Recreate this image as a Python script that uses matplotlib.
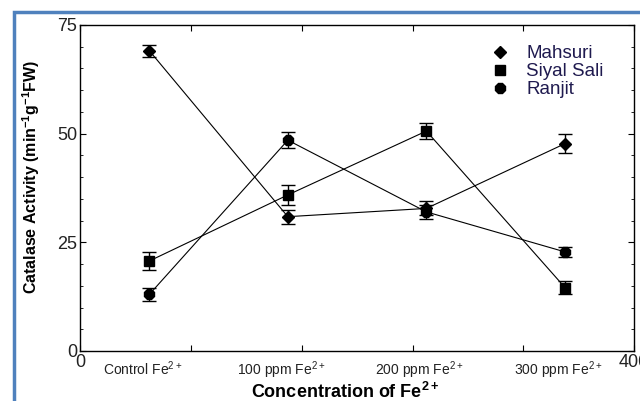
import matplotlib.pyplot as plt
from matplotlib.lines import Line2D
from matplotlib.patches import Rectangle

plt.rcParams['font.family'] = ['Liberation Sans', 'DejaVu Sans']
plt.rcParams['mathtext.fontset'] = 'custom'
plt.rcParams['mathtext.rm'] = 'Liberation Sans'
plt.rcParams['mathtext.bf'] = 'Liberation Sans:bold'

# concentration positions on the 0-400 axis
conc_x = [50, 150, 250, 350]
conc_labels = ['Control Fe$^{2+}$', '100 ppm Fe$^{2+}$', '200 ppm Fe$^{2+}$', '300 ppm Fe$^{2+}$']

mahsuri = [69.1, 30.9, 32.8, 47.7]
mahsuri_err = [1.4, 1.6, 1.6, 2.2]
siyal_sali = [20.7, 35.9, 50.6, 14.6]
siyal_sali_err = [2.1, 2.3, 1.8, 1.6]
ranjit = [13.0, 48.5, 32.0, 22.8]
ranjit_err = [1.4, 1.8, 1.7, 1.2]

series = [('Mahsuri', mahsuri, mahsuri_err, 'D', 6.5),
          ('Siyal Sali', siyal_sali, siyal_sali_err, 's', 6.5),
          ('Ranjit', ranjit, ranjit_err, '8', 8.5)]

fig = plt.figure(figsize=(6.4, 4.01), dpi=100)
ax = fig.add_axes([0.125, 0.1247, 0.866, 0.813])

# blue frame around the figure (only top/left are visible in the original)
fig.patches.append(Rectangle((14 / 640, -0.1), 1.2, 1 - 12 / 401 + 0.1,
                             transform=fig.transFigure, fill=False,
                             edgecolor='#4f81bd', linewidth=2.5, zorder=-1))

handles = []
for name, vals, errs, mk, ms in series:
    ax.errorbar(conc_x, vals, yerr=errs, color='black', marker=mk, markersize=ms,
                linewidth=0.8, elinewidth=1.0, capsize=5, capthick=1.0)
    handles.append(Line2D([], [], color='black', marker=mk, markersize=ms,
                          linestyle='none', label=name))

ax.set_xlim(0, 400)
ax.set_ylim(0, 75)
ax.set_xticks([0, 80, 160, 240, 320, 400])
ax.set_xticklabels(['0', '', '', '', '', '400'], fontsize=13, color='#222222')
ax.set_yticks([0, 25, 50, 75])
ax.set_yticks(range(0, 76, 5), minor=True)
ax.set_yticklabels(['0', '25', '50', '75'], fontsize=13, color='#222222')
ax.tick_params(direction='in', top=True, right=True, length=4, pad=2)
ax.tick_params(which='minor', direction='in', right=True, left=True, length=2.5)
for s in ax.spines.values():
    s.set_linewidth(1.0)

for x, lab in zip(conc_x, conc_labels):
    ax.text(x - 5, -2.0, lab, ha='center', va='top', fontsize=10, color='#222222')

ax.set_xlabel('Concentration of Fe$^{\\mathbf{2+}}$', fontsize=13, fontweight='bold')
ax.xaxis.set_label_coords(0.478, -0.095)
ax.set_ylabel('Catalase Activity (min$^{\\mathbf{-1}}$g$^{\\mathbf{-1}}$FW)',
              fontsize=11.5, fontweight='bold')
ax.yaxis.set_label_coords(-0.068, 0.534)

leg = ax.legend(handles=handles, loc='upper right', bbox_to_anchor=(0.975, 0.99),
                frameon=False, fontsize=13.5, handletextpad=0.9, labelspacing=0.05,
                handlelength=1.0)
for t in leg.get_texts():
    t.set_color('#1f1a4f')

fig.savefig('out.png', dpi=100)
